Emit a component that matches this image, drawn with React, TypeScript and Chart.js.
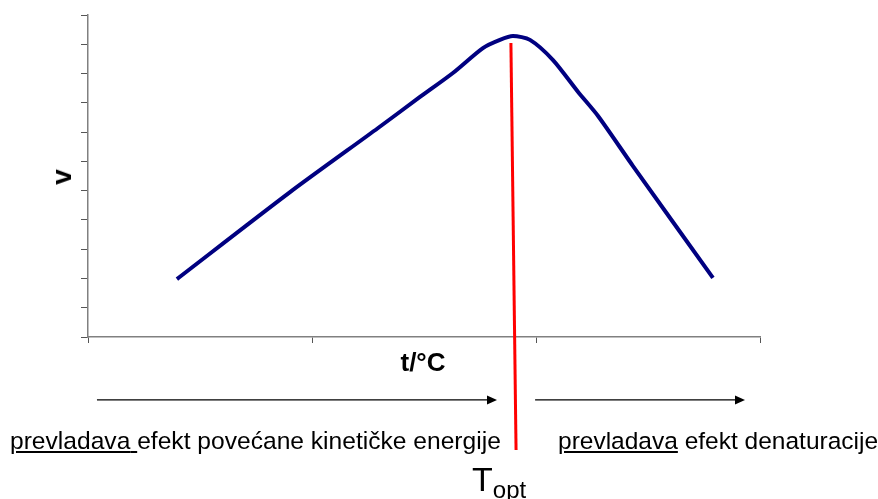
import React, { useEffect, useRef } from "react";
import { Chart, registerables } from "chart.js";

Chart.register(...registerables);

// temperature (x) and rate (v) values
const tempValues = [3.97, 9.02, 12.95, 14.82, 16.29, 17.63, 18.39, 18.97, 19.73, 20.76, 21.88, 22.77, 24.33, 27.9];
const rateValues = [1.98, 4.95, 7.14, 8.2, 9.02, 9.87, 10.15, 10.28, 10.15, 9.46, 8.37, 7.55, 5.84, 2.02];

// T_opt marker line (runs below the axis)
const toptX = [18.88, 19.11];
const toptY = [10.04, -3.86];

// arrows below the axis: [from, to] in temperature units, at one level
const arrowRanges: [number, number][] = [
  [0.4, 18.26],
  [19.96, 29.33],
];
const arrowLevel = -2.15;

const xMin = 0;
const xMax = 30;
const xStep = 10;
const yMin = 0;
const yMax = 11;
const yStep = 1;

const leftText = "efekt povećane kinetičke energije";
const rightText = "efekt denaturacije";
const underlinedWord = "prevladava";

const FONT = "'Liberation Sans', Arial, Helvetica, sans-serif";

const arrowPlugin = {
  id: "arrows",
  afterDatasetsDraw(chart: any) {
    const { ctx, scales } = chart;
    const y = scales.y.getPixelForValue(arrowLevel);
    ctx.save();
    ctx.strokeStyle = "#000";
    ctx.fillStyle = "#000";
    ctx.lineWidth = 1.2;
    for (const [a, b] of arrowRanges) {
      const x1 = scales.x.getPixelForValue(a);
      const x2 = scales.x.getPixelForValue(b);
      ctx.beginPath();
      ctx.moveTo(x1, y);
      ctx.lineTo(x2 - 8, y);
      ctx.stroke();
      ctx.beginPath();
      ctx.moveTo(x2, y);
      ctx.lineTo(x2 - 10, y - 4.5);
      ctx.lineTo(x2 - 10, y + 4.5);
      ctx.closePath();
      ctx.fill();
    }
    ctx.restore();
  },
};

export default function App() {
  const ref = useRef<HTMLCanvasElement>(null);

  useEffect(() => {
    if (!ref.current) return;
    const chart = new Chart(ref.current, {
      type: "line",
      data: {
        datasets: [
          {
            data: tempValues.map((t, i) => ({ x: t, y: rateValues[i] })),
            borderColor: "#000080",
            borderWidth: 4,
            pointRadius: 0,
            tension: 0.25,
            fill: false,
          },
          {
            data: toptX.map((t, i) => ({ x: t, y: toptY[i] })),
            borderColor: "#ff0000",
            borderWidth: 3,
            pointRadius: 0,
            clip: false as any,
            fill: false,
          },
        ],
      },
      options: {
        animation: false,
        responsive: false,
        maintainAspectRatio: false,
        layout: { padding: { top: 15, right: 118, left: 0, bottom: 0 } },
        plugins: { legend: { display: false }, tooltip: { enabled: false } },
        scales: {
          x: {
            type: "linear",
            min: xMin,
            max: xMax,
            ticks: { stepSize: xStep, display: false },
            grid: { drawOnChartArea: false, drawTicks: true, tickLength: 6, color: "#555" },
            border: { color: "#808080", width: 1.5 },
            afterFit: (s: any) => {
              s.height = 162;
            },
          },
          y: {
            type: "linear",
            min: yMin,
            max: yMax,
            ticks: { stepSize: yStep, display: false },
            grid: { drawOnChartArea: false, drawTicks: true, tickLength: 7, color: "#555" },
            border: { color: "#808080", width: 1.5 },
            afterFit: (s: any) => {
              s.width = 88;
            },
          },
        },
      },
      plugins: [arrowPlugin],
    });
    return () => chart.destroy();
  }, []);

  const abs = (style: React.CSSProperties): React.CSSProperties => ({
    position: "absolute",
    fontFamily: FONT,
    whiteSpace: "nowrap",
    color: "#000",
    ...style,
  });

  return (
    <div style={{ position: "absolute", left: 0, top: 0, width: 878, height: 499, background: "#fff", overflow: "hidden" }}>
      <canvas ref={ref} width={878} height={499} style={{ display: "block", width: 878, height: 499 }} />
      <div
        style={abs({
          left: 62,
          top: 177,
          fontSize: 28,
          fontWeight: "bold",
          lineHeight: "28px",
          transform: "translate(-50%, -50%) rotate(-90deg)",
        })}
      >
        v
      </div>
      <div style={abs({ left: 423, top: 349, fontSize: 26, fontWeight: "bold", lineHeight: "26px", transform: "translateX(-50%)" })}>
        t/°C
      </div>
      <div style={abs({ left: 10, top: 429, fontSize: 24.6, lineHeight: "24px" })}>
        <span style={{ textDecoration: "underline" }}>{underlinedWord} </span>
        {leftText}
      </div>
      <div style={abs({ left: 558, top: 429, fontSize: 24.5, lineHeight: "24px" })}>
        <span style={{ textDecoration: "underline" }}>{underlinedWord}</span> {rightText}
      </div>
      <div style={abs({ left: 472, top: 462, fontSize: 34, lineHeight: "34px" })}>
        T<span style={{ fontSize: 24, position: "relative", top: 7 }}>opt</span>
      </div>
    </div>
  );
}
